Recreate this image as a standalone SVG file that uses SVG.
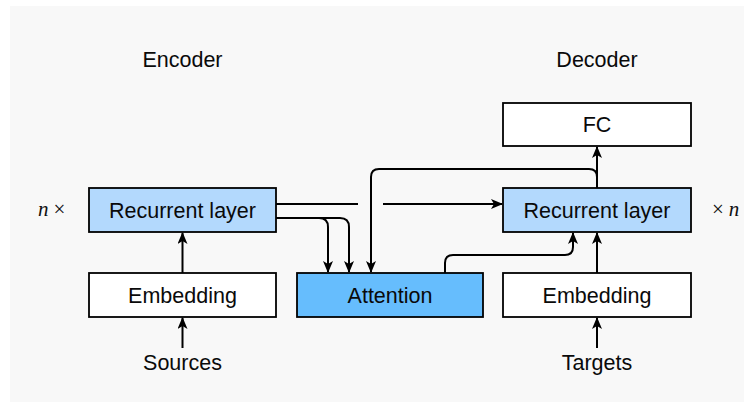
<svg xmlns="http://www.w3.org/2000/svg" width="744" height="402" viewBox="0 0 744 402">
  <style>
    .box { stroke: #000; stroke-width: 1.8; }
    .plain { fill: #ffffff; }
    .rnn { fill: #b3d9fd; }
    .attn { fill: #66bdfd; }
    .label { font-family: "Liberation Sans", Arial, sans-serif; font-size: 21.5px; fill: #0a0a0a; text-anchor: middle; }
    .math { font-family: "Liberation Serif", "Times New Roman", serif; font-size: 21px; fill: #111; }
    .wire { fill: none; stroke: #000; stroke-width: 2; }
    .arrow { marker-end: url(#head); }
  </style>
  <defs>
    <marker id="head" viewBox="0 0 12 10" refX="11" refY="5" markerWidth="12" markerHeight="10" markerUnits="userSpaceOnUse" orient="auto">
      <path d="M0,0 L12,5 L0,10 L3,5 z" fill="#000"/>
    </marker>
  </defs>

  <!-- canvas -->
  <rect x="10" y="6" width="734" height="396" fill="#f8f8f8"/>

  <!-- column titles -->
  <text class="label" x="182.5" y="67">Encoder</text>
  <text class="label" x="597" y="67">Decoder</text>

  <!-- repeat counts -->
  <text class="math" x="38" y="216"><tspan font-style="italic">n</tspan><tspan dx="5">×</tspan></text>
  <text class="math" x="712" y="216">×<tspan dx="5" font-style="italic">n</tspan></text>

  <!-- encoder -->
  <g id="enc-embedding">
    <rect class="box plain" x="89" y="273" width="187" height="44"/>
    <text class="label" x="182.5" y="302.5">Embedding</text>
  </g>
  <g id="enc-recurrent">
    <rect class="box rnn" x="89" y="188" width="187" height="44"/>
    <text class="label" x="182.5" y="217.5">Recurrent layer</text>
  </g>
  <g id="sources">
    <text class="label" x="182.5" y="370">Sources</text>
  </g>

  <!-- attention -->
  <g id="attention">
    <rect class="box attn" x="297" y="273" width="186" height="44"/>
    <text class="label" x="390" y="302.5">Attention</text>
  </g>

  <!-- decoder -->
  <g id="dec-fc">
    <rect class="box plain" x="503" y="103" width="188" height="43"/>
    <text class="label" x="597" y="132">FC</text>
  </g>
  <g id="dec-recurrent">
    <rect class="box rnn" x="503" y="188" width="188" height="44"/>
    <text class="label" x="597" y="217.5">Recurrent layer</text>
  </g>
  <g id="dec-embedding">
    <rect class="box plain" x="503" y="273" width="188" height="44"/>
    <text class="label" x="597" y="302.5">Embedding</text>
  </g>
  <g id="targets">
    <text class="label" x="597" y="370">Targets</text>
  </g>

  <!-- connectors -->
  <g id="connectors">
    <path class="wire arrow" d="M182.5,348 V318"/>
    <path class="wire arrow" d="M182.5,273 V233"/>
    <path class="wire arrow" d="M597,348 V318"/>
    <path class="wire arrow" d="M597,273 V233"/>
    <path class="wire arrow" d="M597,188 V147"/>

    <!-- encoder state to decoder, broken where the query wire crosses -->
    <path class="wire" d="M276,204 H358"/>
    <path class="wire arrow" d="M383,204 H502"/>

    <!-- encoder outputs into attention -->
    <path class="wire arrow" d="M276,218 H319 Q328,218 328,227 V272"/>
    <path class="wire arrow" d="M276,218 H340 Q349,218 349,227 V272"/>

    <!-- decoder state as query -->
    <path class="wire arrow" d="M597,188 V177 Q597,169 589,169 H379 Q371,169 371,177 V272"/>

    <!-- context into decoder -->
    <path class="wire arrow" d="M445,273 V263 Q445,255 453,255 H565 Q573,255 573,247 V233"/>
  </g>
</svg>
